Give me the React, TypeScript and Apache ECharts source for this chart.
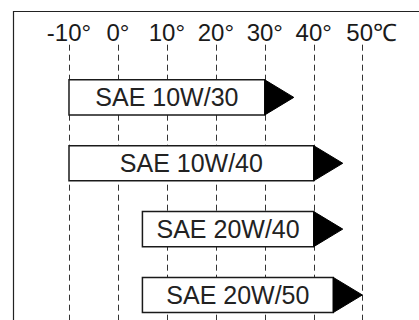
import React, { useEffect, useRef } from "react";
import * as echarts from "echarts";

const categories = ["SAE 10W/30", "SAE 10W/40", "SAE 20W/40", "SAE 20W/50"];
const minTemps = [-10, -10, 5, 5];
const maxTemps = [30, 40, 40, 44];
const tempTicks = [-10, 0, 10, 20, 30, 40, 50];

export default function App() {
  const ref = useRef<HTMLDivElement>(null);
  useEffect(() => {
    if (!ref.current) return;
    const chart = echarts.init(ref.current, undefined, { renderer: "svg" });
    const data = categories.map((c, i) => [minTemps[i], maxTemps[i], i, c]);
    chart.setOption({
      animation: false,
      backgroundColor: "#fff",
      textStyle: { fontFamily: "Liberation Sans, Arial, sans-serif" },
      grid: { left: 69, right: 56.3, top: 44.7, bottom: 0 },
      xAxis: {
        type: "value",
        position: "top",
        min: tempTicks[0],
        max: tempTicks[tempTicks.length - 1],
        interval: 10,
        axisLine: { show: false },
        axisTick: { show: false },
        axisLabel: {
          margin: 0,
          fontSize: 24,
          color: "#1a1a1a",
          fontFamily: "Liberation Sans, Arial, sans-serif",
          formatter: (v: number) =>
            v === tempTicks[tempTicks.length - 1] ? `{sp|}${v}℃` : `${v}°`,
          rich: { sp: { width: 18 } },
        },
        splitLine: {
          show: true,
          lineStyle: { color: "#333", width: 1, type: [6, 4] },
        },
      },
      yAxis: {
        type: "value",
        inverse: true,
        min: -0.8,
        max: 3.38,
        show: false,
        splitLine: { show: false },
      },
      graphic: [
        {
          type: "rect",
          left: 11,
          top: 9,
          shape: { width: 440, height: 340 },
          style: { fill: "none", stroke: "#222", lineWidth: 1.2 },
          silent: true,
          z: 10,
        },
      ],
      series: [
        {
          type: "custom",
          data,
          encode: { x: [0, 1], y: 2 },
          renderItem: (params: any, api: any) => {
            const s = api.coord([api.value(0), api.value(2)]);
            const e = api.coord([api.value(1), api.value(2)]);
            const h = api.size([0, 1])[1] * 0.532;
            const top = s[1] - h / 2;
            const tri = 29;
            const label = categories[params.dataIndex];
            return {
              type: "group",
              children: [
                {
                  type: "rect",
                  shape: { x: s[0], y: top, width: e[0] - s[0], height: h },
                  style: { fill: "#fff", stroke: "#1a1a1a", lineWidth: 1.5 },
                },
                {
                  type: "polygon",
                  shape: {
                    points: [
                      [e[0], top],
                      [e[0] + tri, s[1]],
                      [e[0], top + h],
                    ],
                  },
                  style: { fill: "#000", stroke: "#000", lineWidth: 1 },
                },
                {
                  type: "text",
                  style: {
                    x: (s[0] + e[0]) / 2,
                    y: s[1],
                    text: label,
                    fill: "#222",
                    fontSize: 25,
                    fontFamily: "Liberation Sans, Arial, sans-serif",
                    align: "center",
                    verticalAlign: "middle",
                  },
                },
              ],
            };
          },
        },
      ],
    });
    return () => chart.dispose();
  }, []);
  return (
    <div
      ref={ref}
      style={{ position: "fixed", left: 0, top: 0, width: 419, height: 320 }}
    />
  );
}
